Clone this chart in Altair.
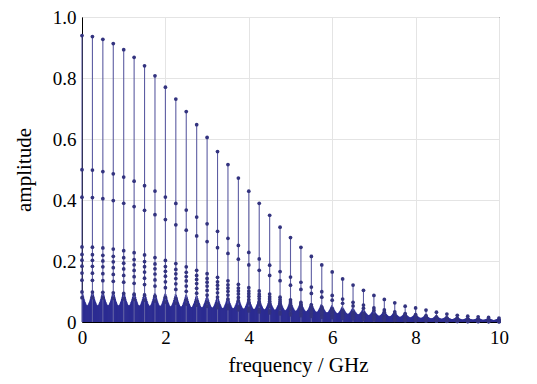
import altair as alt
import pandas as pd

# Major comb lines (every 0.25 GHz), top amplitude
major_freq = [k * 0.25 for k in range(41)]
major_amp = [0.939, 0.936, 0.927, 0.913, 0.893, 0.868, 0.840, 0.807, 0.770, 0.731,
             0.690, 0.647, 0.605, 0.559, 0.516, 0.472, 0.429, 0.389, 0.350, 0.311,
             0.277, 0.245, 0.215, 0.187, 0.164, 0.141, 0.121, 0.104, 0.087, 0.074,
             0.063, 0.052, 0.046, 0.039, 0.032, 0.026, 0.022, 0.019, 0.017, 0.015,
             0.013]
# relative heights of the additional markers along each major stem
level_ratio = [1.0, 0.532, 0.436, 0.262, 0.236, 0.216, 0.195, 0.171, 0.146, 0.105, 0.085]

# dense fine comb between the major lines (20 sub-steps per 0.25 GHz)
fine_profile = [1.0, 0.93, 0.86, 0.79, 0.73, 0.68, 0.63, 0.59, 0.57, 0.56,
                0.57, 0.59, 0.63, 0.68, 0.73, 0.79, 0.86, 0.93, 1.0]
period_edge = [0.097, 0.097, 0.097, 0.096, 0.096, 0.095, 0.094, 0.093, 0.091, 0.089,
               0.087, 0.085, 0.083, 0.081, 0.079, 0.077, 0.075, 0.073, 0.071, 0.068,
               0.065, 0.062, 0.059, 0.055, 0.051, 0.047, 0.044, 0.040, 0.036, 0.033,
               0.030, 0.027, 0.024, 0.021, 0.019, 0.017, 0.015, 0.014, 0.013, 0.012]

rows_major = []
for f, a in zip(major_freq, major_amp):
    for r in level_ratio:
        rows_major.append({"f": f, "amp": a * r, "zero": 0.0, "top": r == 1.0})
df_major = pd.DataFrame(rows_major)

rows_fine = []
for p, edge in enumerate(period_edge):
    for j, w in enumerate(fine_profile):
        rows_fine.append({"f": p * 0.25 + (j + 1) * 0.0125, "amp": edge * w, "zero": 0.0})
df_fine = pd.DataFrame(rows_fine)

FONT = "Liberation Serif"
xs = alt.Scale(domain=[0, 10], nice=False, zero=False)
ys = alt.Scale(domain=[0, 1], nice=False)

x_axis = alt.Axis(values=[0, 2, 4, 6, 8, 10], title="frequency / GHz", grid=True,
                  ticks=False, labelPadding=6, titlePadding=7, titleX=216,
                  labelFlush=False, labelFont=FONT, labelFontSize=19,
                  labelColor="black", titleFont=FONT, titleFontSize=21,
                  titleFontWeight="normal", titleColor="black")
y_axis = alt.Axis(values=[0, 0.2, 0.4, 0.6, 0.8, 1.0], title="amplitude", grid=True,
                  ticks=False, labelPadding=6, titlePadding=18,
                  labelFlush=False, labelFont=FONT, labelFontSize=19,
                  labelColor="black", titleFont=FONT, titleFontSize=21,
                  titleFontWeight="normal", titleColor="black",
                  labelExpr="datum.value == 0 ? '0' : format(datum.value, '.1f')")

fine = alt.Chart(df_fine).mark_rule(color="#2c2c92", strokeWidth=1.2).encode(
    x=alt.X("f:Q", scale=xs, axis=x_axis),
    y=alt.Y("amp:Q", scale=ys, axis=y_axis),
    y2="zero:Q",
)

stems = alt.Chart(df_major).transform_filter("datum.top").mark_rule(
    color="#5d5da2", strokeWidth=1.1
).encode(
    x=alt.X("f:Q", scale=xs, axis=x_axis),
    y=alt.Y("amp:Q", scale=ys, axis=y_axis),
    y2="zero:Q",
)

dots = alt.Chart(df_major).mark_circle(color="#33337f", size=14, opacity=1).encode(
    x=alt.X("f:Q", scale=xs, axis=x_axis),
    y=alt.Y("amp:Q", scale=ys, axis=y_axis),
)

chart = alt.layer(fine, stems, dots).properties(
    width=417, height=305,
    autosize=alt.AutoSizeParams(type="none"),
    padding={"left": 74, "top": 9, "right": 20, "bottom": 60},
).configure_view(
    stroke="black", strokeWidth=1
).configure_axis(
    domainColor="black", domainWidth=1,
    gridColor="#e4e4e4", gridWidth=1,
).configure_axisX(
    labelFont=FONT, labelFontSize=19
).configure_axisY(
    labelFont=FONT, labelFontSize=19
)

chart.save("out.html", embed_options={"renderer": "svg", "actions": False})
